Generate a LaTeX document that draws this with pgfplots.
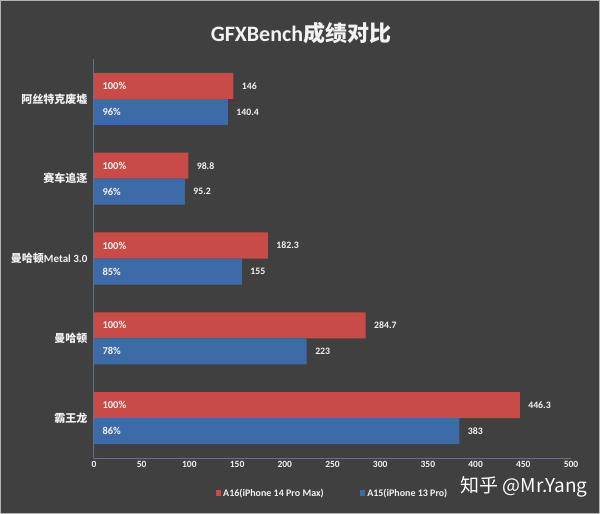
\documentclass[border=0pt]{standalone}
\usepackage{pgfplots}
\pgfplotsset{compat=1.18}
\usepackage{pgfplotstable}
\usepackage{fontspec}
\setmainfont{Carlito}
\newfontfamily\cjk{Noto Sans CJK SC}

\definecolor{bg}{HTML}{404040}
\definecolor{redbar}{HTML}{C84B48}
\definecolor{bluebar}{HTML}{3D6BA8}
\definecolor{axisline}{HTML}{5E7390}
\definecolor{txt}{HTML}{F2F2F2}

% yr/yb: bar positions (category index -/+ half a bar), a16/a15: scores, p16/p15: percent
\pgfplotstableread{
yr     yb    z a16   a15   p16 p15
-0.163 0.163 0 146   140.4 100 96
0.837  1.163 0 98.8  95.2  100 96
1.837  2.163 0 182.3 155   100 85
2.837  3.163 0 284.7 223   100 78
3.837  4.163 0 446.3 383   100 86
}\gfx

\begin{document}
\begin{tikzpicture}
  \fill[bg] (0pt,0pt) rectangle (600pt,514pt);
  \draw[gray!60, line width=1.2pt] (0.6pt,0.6pt) rectangle (599.4pt,513.4pt);
  \node[text=txt, font=\bfseries\fontsize{22}{26}\selectfont] at (301pt,481pt)
    {GFXBench{\cjk 成绩对比}};

  \begin{axis}[
    at={(94pt,56pt)}, anchor=south west,
    scale only axis, width=477pt, height=399pt,
    xmin=0, xmax=500, ymin=-0.5, ymax=4.5, y dir=reverse,
    axis x line*=bottom, axis y line*=left,
    axis line style={draw=axisline, line width=1pt, -},
    major tick length=0pt,
    xtick={0,50,...,500},
    ytick={0,1,2,3,4},
    yticklabels={{\cjk 阿丝特克废墟},{\cjk 赛车追逐},{\cjk 曼哈顿}Metal 3.0,{\cjk 曼哈顿},{\cjk 霸王龙}},
    xticklabel style={text=txt, font=\bfseries\fontsize{9.5}{11}\selectfont},
    yticklabel style={text=txt, font=\bfseries\fontsize{11}{13}\selectfont, xshift=-3pt},
    /pgf/number format/assume math mode=true,
    bar width=0.326, bar shift=0pt,
    legend style={at={(0.5,-0.088)}, anchor=center, draw=none, fill=none,
      text=txt, font=\bfseries\fontsize{10}{12}\selectfont,
      /tikz/every even column/.append style={column sep=34pt}},
    legend columns=2,
    legend image code/.code={\fill[#1,draw=none] (0pt,-2.5pt) rectangle (5.5pt,3pt);},
    every node near coord/.append style={text=txt, font=\bfseries\fontsize{9.8}{11}\selectfont},
  ]
    \addplot[xbar, fill=redbar, draw=none,
      point meta=x, nodes near coords,
      every node near coord/.append style={anchor=west, xshift=5pt}]
      table[x=a16, y=yr] {\gfx};
    \addlegendentry{A16(iPhone 14 Pro Max)}
    \addplot[xbar, fill=bluebar, draw=none,
      point meta=x, nodes near coords,
      every node near coord/.append style={anchor=west, xshift=5pt}]
      table[x=a15, y=yb] {\gfx};
    \addlegendentry{A15(iPhone 13 Pro)}
    % percentage labels at the root of each bar
    \addplot[xbar, draw=none, fill=none, forget plot,
      point meta=\thisrow{p16},
      nodes near coords={\pgfmathprintnumber{\pgfplotspointmeta}\%},
      every node near coord/.append style={anchor=west, xshift=5pt, font=\bfseries\fontsize{10.5}{12}\selectfont}]
      table[x=z, y=yr] {\gfx};
    \addplot[xbar, draw=none, fill=none, forget plot,
      point meta=\thisrow{p15},
      nodes near coords={\pgfmathprintnumber{\pgfplotspointmeta}\%},
      every node near coord/.append style={anchor=west, xshift=5pt, font=\bfseries\fontsize{10.5}{12}\selectfont}]
      table[x=z, y=yb] {\gfx};
  \end{axis}

  \node[anchor=west, text=white, font=\cjk\fontsize{19}{22}\selectfont] at (457pt,27pt)
    {知乎 @Mr.Yang};
  \pgfresetboundingbox
  \path[use as bounding box] (0pt,0pt) rectangle (600pt,514pt);
\end{tikzpicture}
\end{document}
